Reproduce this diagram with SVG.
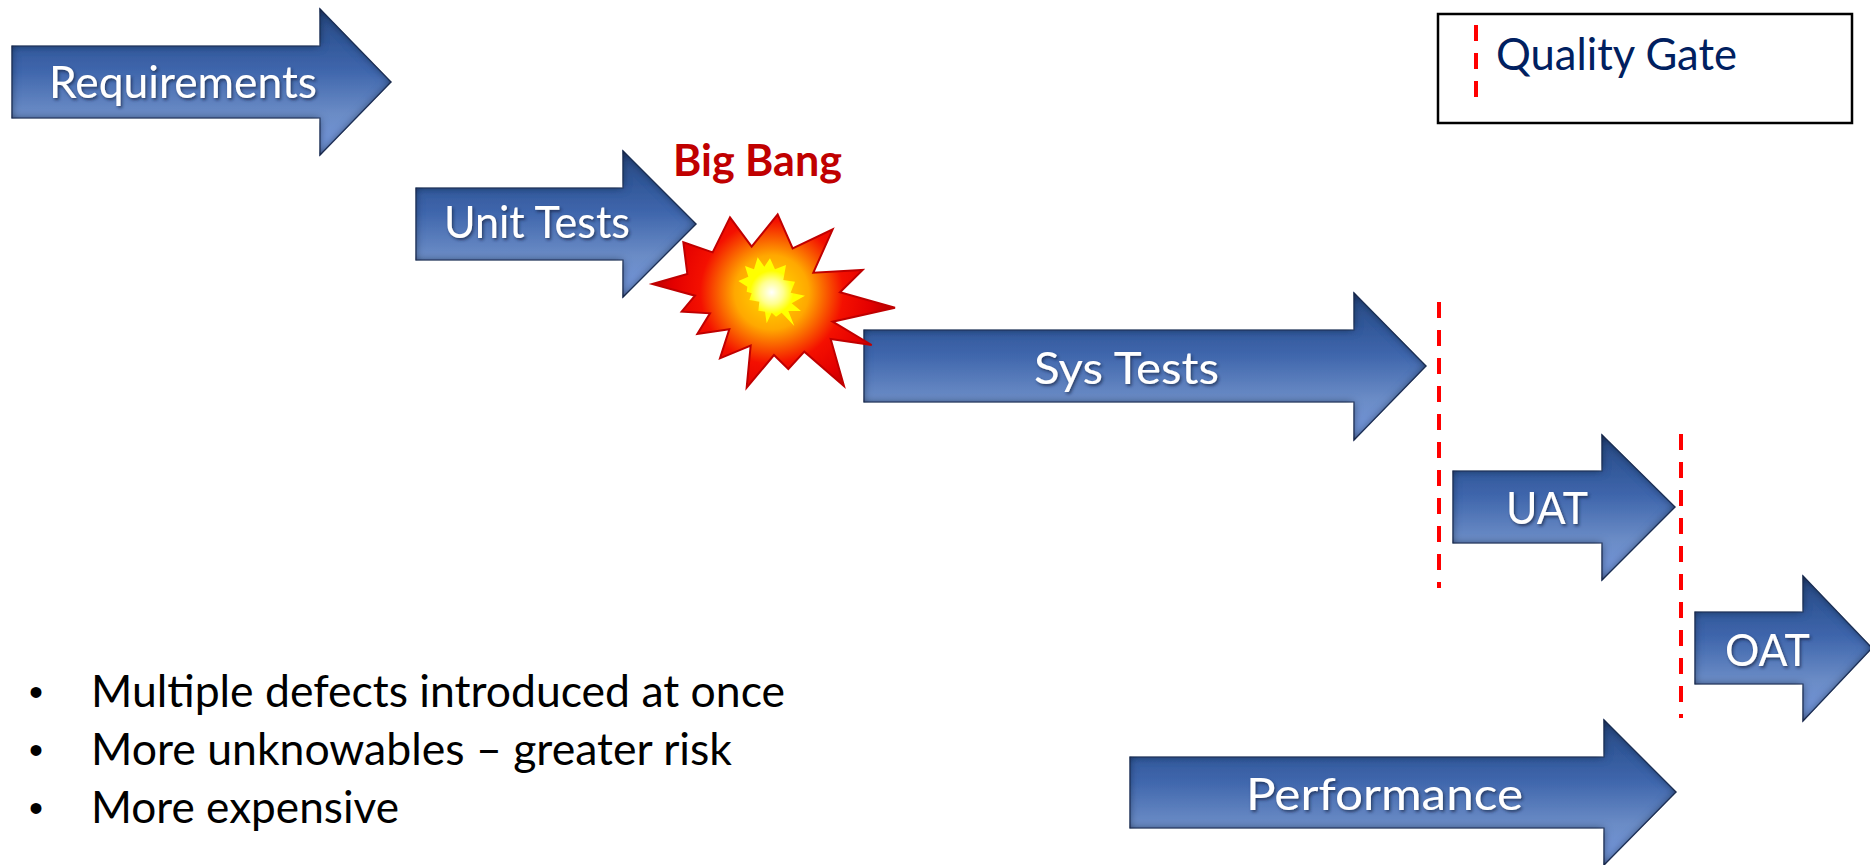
<svg xmlns="http://www.w3.org/2000/svg" width="1870" height="865" viewBox="0 0 1870 865">
<style>
.arrow{fill:url(#ag);stroke:#2b3d66;stroke-width:1.2;stroke-linejoin:miter;filter:url(#bevel)}
.hl{stroke:#7f9bd2;stroke-width:3;opacity:.75;fill:none;filter:url(#soft)}
.lbl{font-family:"Lato","Liberation Sans",sans-serif;font-size:45px;fill:#fff;filter:url(#ts)}
.gate{stroke:#ff0000;stroke-width:4;stroke-dasharray:16 12;fill:none}
.bul{font-family:"Lato","Liberation Sans",sans-serif;font-size:44px;fill:#000}
.dot{font-family:"Liberation Sans",sans-serif;font-size:40px;fill:#000}
</style>
<defs>
<linearGradient id="ag" x1="0" y1="0" x2="0" y2="1">
<stop offset="0" stop-color="#2b4a82"/>
<stop offset=".25" stop-color="#345a9c"/>
<stop offset=".42" stop-color="#3f66ac"/>
<stop offset=".72" stop-color="#6b8cc6"/>
<stop offset="1" stop-color="#7396dc"/>
</linearGradient>
<filter id="bevel" x="-5%" y="-5%" width="110%" height="110%">
<feGaussianBlur in="SourceAlpha" stdDeviation="4.5" result="b"/>
<feComposite in="SourceAlpha" in2="b" operator="out" result="edge"/>
<feFlood flood-color="#0c1a38" flood-opacity="1"/>
<feComposite in2="edge" operator="in" result="dark"/>
<feMerge><feMergeNode in="SourceGraphic"/><feMergeNode in="dark"/></feMerge>
</filter>
<filter id="soft"><feGaussianBlur stdDeviation=".8"/></filter>
<filter id="ts" x="-10%" y="-20%" width="120%" height="140%"><feDropShadow dx="1.5" dy="2" stdDeviation="1.5" flood-color="#1a2a4a" flood-opacity=".75"/></filter>
<radialGradient id="burst" gradientUnits="userSpaceOnUse" cx="1115" cy="487" r="370">
<stop offset="0" stop-color="#ffe000"/>
<stop offset=".3" stop-color="#ffa800"/>
<stop offset=".58" stop-color="#f41000"/>
<stop offset=".8" stop-color="#e40000"/>
<stop offset="1" stop-color="#b40000"/>
</radialGradient>
<radialGradient id="core" gradientUnits="userSpaceOnUse" cx="1115" cy="487" r="100">
<stop offset="0" stop-color="#ffffff"/>
<stop offset=".35" stop-color="#ffff90"/>
<stop offset=".65" stop-color="#ffff00"/>
<stop offset="1" stop-color="#ffff00"/>
</radialGradient>
</defs>
<rect width="1870" height="865" fill="#fff"/>

<g id="connectors">
<path class="gate" d="M1439 302V588"/>
<path class="gate" d="M1681 434V718"/>
</g>

<g id="requirements">
<polygon class="arrow" points="12,46 320,46 320,9 391,82 320,155 320,118 12,118"/>
<path class="hl" d="M15 51H326"/>
<text class="lbl" x="49" y="98" textLength="268" lengthAdjust="spacingAndGlyphs">Requirements</text>
</g>
<g id="unit-tests">
<polygon class="arrow" points="416,188 623,188 623,151 696,224 623,297 623,260 416,260"/>
<path class="hl" d="M419 193H629"/>
<text class="lbl" x="444" y="238" textLength="186" lengthAdjust="spacingAndGlyphs">Unit Tests</text>
</g>
<g id="sys-tests">
<polygon class="arrow" points="864,330 1354,330 1354,293 1426,366 1354,440 1354,402 864,402"/>
<path class="hl" d="M867 335H1360"/>
<text class="lbl" x="1034" y="384" textLength="185" lengthAdjust="spacingAndGlyphs">Sys Tests</text>
</g>
<g id="uat">
<polygon class="arrow" points="1453,471 1602,471 1602,435 1675,507 1602,580 1602,543 1453,543"/>
<path class="hl" d="M1456 476H1608"/>
<text class="lbl" x="1506" y="524" textLength="82" lengthAdjust="spacingAndGlyphs">UAT</text>
</g>
<g id="oat">
<polygon class="arrow" points="1695,612 1803,612 1803,576 1872,648 1803,721 1803,684 1695,684"/>
<path class="hl" d="M1698 617H1809"/>
<text class="lbl" x="1725" y="666" textLength="85" lengthAdjust="spacingAndGlyphs">OAT</text>
</g>
<g id="performance">
<polygon class="arrow" points="1130,757 1604,757 1604,720 1676,792 1604,865 1604,828 1130,828"/>
<path class="hl" d="M1133 762H1610"/>
<text class="lbl" x="1246" y="810" textLength="277" lengthAdjust="spacingAndGlyphs">Performance</text>
</g>

<g id="big-bang">
<g transform="translate(400 130) scale(.33333)">
<polygon fill="url(#burst)" stroke="#c00000" stroke-width="6" stroke-linejoin="miter" points="990,262 1055,350 1133,253 1178,355 1298,298 1240,428 1388,420 1320,487 1485,533 1298,575 1415,645 1292,627 1332,768 1213,665 1165,717 1122,675 1040,773 1052,647 960,685 988,598 892,612 930,550 845,545 885,497 757,462 862,432 850,337 938,367"/>
<polygon fill="url(#core)" points="1073,382 1093,410 1110,385 1125,418 1158,405 1150,450 1185,455 1172,488 1215,497 1175,520 1203,543 1165,543 1183,588 1145,548 1128,560 1115,548 1100,580 1095,545 1075,542 1078,515 1048,510 1055,490 1040,485 1042,470 1015,453 1045,440 1035,408 1062,418"/>
</g>
<text x="673" y="176" font-family="Lato, 'Liberation Sans', sans-serif" font-weight="700" font-size="43" fill="#c00000" textLength="169" lengthAdjust="spacingAndGlyphs">Big Bang</text>
</g>

<g id="legend">
<rect x="1438" y="14" width="414" height="109" fill="#fff" stroke="#000" stroke-width="2.5"/>
<path class="gate" d="M1476 25V98"/>
<text x="1496" y="70" font-family="Lato, 'Liberation Sans', sans-serif" font-size="45" fill="#002060" textLength="241" lengthAdjust="spacingAndGlyphs">Quality Gate</text>
</g>

<g id="notes">
<text class="dot" x="29" y="706">•</text>
<text class="bul" x="91" y="707" textLength="694" lengthAdjust="spacingAndGlyphs">Multiple defects introduced at once</text>
<text class="dot" x="29" y="764">•</text>
<text class="bul" x="91" y="765" textLength="641" lengthAdjust="spacingAndGlyphs">More unknowables – greater risk</text>
<text class="dot" x="29" y="822">•</text>
<text class="bul" x="91" y="823" textLength="308" lengthAdjust="spacingAndGlyphs">More expensive</text>
</g>
</svg>
